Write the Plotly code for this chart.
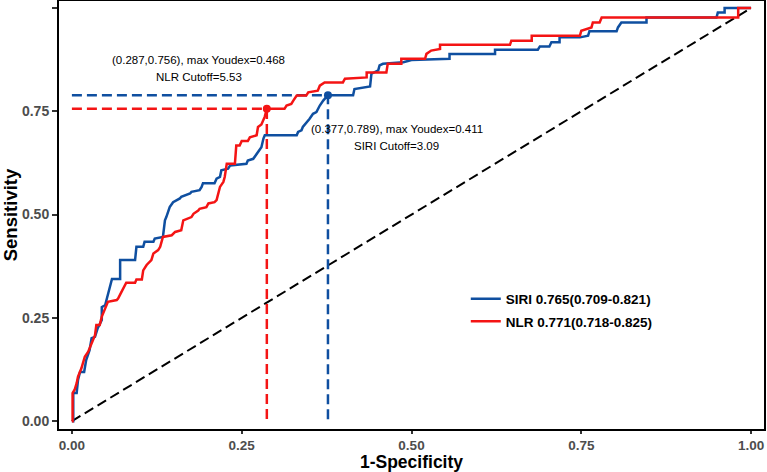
import plotly.graph_objects as go

# ---- data ----
siri_fpr = [0.0, 0.002, 0.002, 0.007, 0.009, 0.012, 0.018, 0.021, 0.026, 0.029, 0.034, 0.038, 0.044, 0.044,
            0.049, 0.053, 0.056, 0.059, 0.071, 0.071, 0.093, 0.095, 0.105, 0.107, 0.120, 0.122, 0.134, 0.137,
            0.139, 0.144, 0.149, 0.159, 0.161, 0.174, 0.176, 0.188, 0.191, 0.193, 0.210, 0.213, 0.218, 0.220,
            0.230, 0.233, 0.257, 0.259, 0.267, 0.272, 0.279, 0.282, 0.284, 0.331, 0.333, 0.338, 0.340, 0.350,
            0.355, 0.360, 0.365, 0.370, 0.377, 0.414, 0.416, 0.439, 0.441, 0.451, 0.453, 0.458, 0.488, 0.500,
            0.556, 0.556, 0.623, 0.623, 0.686, 0.689, 0.703, 0.706, 0.718, 0.718, 0.748, 0.760, 0.762, 0.802,
            0.804, 0.809, 0.846, 0.846, 0.949, 0.951, 0.961, 0.961, 1.0]
siri_tpr = [0.0, 0.0, 0.068, 0.068, 0.100, 0.119, 0.119, 0.148, 0.172, 0.201, 0.204, 0.225, 0.245, 0.276,
            0.281, 0.305, 0.329, 0.344, 0.344, 0.390, 0.390, 0.422, 0.422, 0.434, 0.434, 0.442, 0.446, 0.486,
            0.494, 0.518, 0.530, 0.539, 0.543, 0.551, 0.555, 0.559, 0.567, 0.576, 0.576, 0.587, 0.591, 0.607,
            0.611, 0.619, 0.623, 0.631, 0.635, 0.647, 0.663, 0.684, 0.692, 0.692, 0.700, 0.704, 0.712, 0.732,
            0.744, 0.748, 0.764, 0.776, 0.789, 0.789, 0.804, 0.810, 0.841, 0.849, 0.861, 0.865, 0.869, 0.874,
            0.877, 0.889, 0.889, 0.899, 0.899, 0.907, 0.907, 0.917, 0.917, 0.929, 0.929, 0.933, 0.944, 0.944,
            0.953, 0.965, 0.965, 0.977, 0.977, 0.989, 0.989, 1.0, 1.0]

nlr_fpr = [0.0, 0.001, 0.001, 0.004, 0.007, 0.009, 0.014, 0.019, 0.024, 0.029, 0.034, 0.036, 0.041, 0.044,
           0.049, 0.053, 0.066, 0.068, 0.073, 0.078, 0.080, 0.093, 0.095, 0.103, 0.105, 0.110, 0.117, 0.120,
           0.127, 0.130, 0.134, 0.147, 0.152, 0.161, 0.164, 0.176, 0.179, 0.186, 0.188, 0.198, 0.201, 0.210,
           0.213, 0.218, 0.223, 0.225, 0.228, 0.240, 0.242, 0.247, 0.250, 0.259, 0.262, 0.272, 0.274, 0.279,
           0.284, 0.287, 0.313, 0.316, 0.323, 0.326, 0.331, 0.345, 0.348, 0.362, 0.365, 0.372, 0.399, 0.402,
           0.434, 0.434, 0.463, 0.465, 0.485, 0.485, 0.520, 0.522, 0.529, 0.542, 0.542, 0.645, 0.647, 0.677,
           0.677, 0.748, 0.750, 0.765, 0.767, 0.777, 0.780, 0.981, 0.981, 1.0]
nlr_tpr = [0.0, 0.0, 0.068, 0.076, 0.092, 0.108, 0.128, 0.156, 0.168, 0.188, 0.208, 0.233, 0.233, 0.253,
           0.273, 0.289, 0.293, 0.297, 0.313, 0.329, 0.335, 0.335, 0.343, 0.343, 0.365, 0.378, 0.390, 0.406,
           0.414, 0.422, 0.446, 0.450, 0.458, 0.462, 0.486, 0.494, 0.502, 0.510, 0.514, 0.518, 0.527, 0.530,
           0.535, 0.567, 0.579, 0.591, 0.623, 0.623, 0.667, 0.667, 0.678, 0.678, 0.687, 0.692, 0.712, 0.718,
           0.737, 0.756, 0.756, 0.764, 0.768, 0.776, 0.788, 0.788, 0.796, 0.800, 0.812, 0.820, 0.820, 0.829,
           0.832, 0.844, 0.844, 0.865, 0.865, 0.877, 0.877, 0.889, 0.897, 0.901, 0.911, 0.911, 0.921, 0.921,
           0.933, 0.933, 0.945, 0.953, 0.965, 0.965, 0.977, 0.977, 1.0, 1.0]

series_names = ["SIRI 0.765(0.709-0.821)", "NLR 0.771(0.718-0.825)"]
series_colors = ["#0F4FA0", "#F41414"]

best_points = {"SIRI": (0.377, 0.789), "NLR": (0.287, 0.756)}
youden = {"SIRI": 0.411, "NLR": 0.468}
cutoffs = {"SIRI": 3.09, "NLR": 5.53}

tick_vals = [0, 0.25, 0.5, 0.75, 1.0]
tick_text = ["0.00", "0.25", "0.50", "0.75", "1.00"]

FONT = "Liberation Sans, Arial, sans-serif"

fig = go.Figure()

# diagonal reference
fig.add_trace(go.Scatter(x=[0, 1], y=[0, 1], mode="lines", showlegend=False, hoverinfo="skip",
                         line=dict(color="black", width=2, dash="10px,5px")))

# cutoff guide lines
for key, col in (("SIRI", series_colors[0]), ("NLR", series_colors[1])):
    bx, by = best_points[key]
    fig.add_trace(go.Scatter(x=[0, bx, bx], y=[by, by, 0], mode="lines", showlegend=False,
                             hoverinfo="skip", line=dict(color=col, width=2.5, dash="10px,5px")))

# ROC curves
fig.add_trace(go.Scatter(x=siri_fpr, y=siri_tpr, mode="lines", name=series_names[0], legendgroup="siri",
                         line=dict(color=series_colors[0], width=2.5)))
fig.add_trace(go.Scatter(x=nlr_fpr, y=nlr_tpr, mode="lines", name=series_names[1], legendgroup="nlr",
                         line=dict(color=series_colors[1], width=2.5)))

# best points
for key, col in (("SIRI", series_colors[0]), ("NLR", series_colors[1])):
    bx, by = best_points[key]
    fig.add_trace(go.Scatter(x=[bx], y=[by], mode="markers", showlegend=False,
                             marker=dict(color=col, size=8)))

# annotations
ann_font = dict(family=FONT, size=11.5, color="black")
ann_specs = [("NLR", 0.187, 0.873, 0.834), ("SIRI", 0.478, 0.708, 0.667)]
for key, ax_, y1, y2 in ann_specs:
    bx, by = best_points[key]
    fig.add_annotation(x=ax_, y=y1, xref="x", yref="y", showarrow=False, font=ann_font,
                       text=f"({bx:.3f},{by:.3f}), max Youdex={youden[key]:.3f}")
    fig.add_annotation(x=ax_, y=y2, xref="x", yref="y", showarrow=False, font=ann_font,
                       text=f"{key} Cutoff={cutoffs[key]:.2f}")

axis_common = dict(
    showgrid=False, zeroline=False, showline=True, mirror=True, linecolor="black", linewidth=2,
    ticks="outside", tickwidth=1.5, tickcolor="#333333",
    tickvals=tick_vals, ticktext=tick_text,
)

fig.update_xaxes(range=[-0.019, 1.019], ticklen=3,
                 tickfont=dict(family=FONT, size=13.5, color="#4D4D4D", weight="bold"),
                 title=dict(text="1-Specificity", standoff=6,
                            font=dict(family=FONT, size=17.5, color="black", weight="bold")),
                 **axis_common)
fig.update_yaxes(range=[-0.019, 1.017], ticklen=5,
                 tickfont=dict(family=FONT, size=14, color="#4D4D4D", weight="bold"),
                 title=dict(text="Sensitivity", standoff=4,
                            font=dict(family=FONT, size=18.5, color="black", weight="bold")),
                 **axis_common)

fig.update_layout(
    width=767, height=472,
    margin=dict(l=59, r=3, t=1, b=43, autoexpand=False),
    paper_bgcolor="white", plot_bgcolor="white",
    showlegend=True,
    legend=dict(x=0.577, y=0.277, xanchor="left", yanchor="middle", bgcolor="rgba(0,0,0,0)",
                traceorder="grouped", tracegroupgap=2,
                font=dict(family=FONT, size=13.5, color="black", weight="bold")),
)

fig.write_html("out.html")
